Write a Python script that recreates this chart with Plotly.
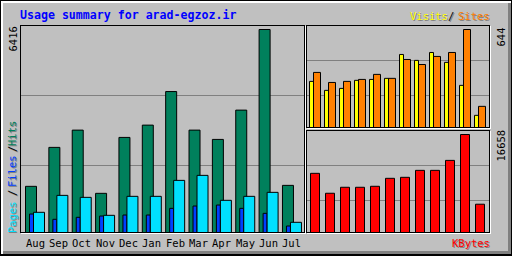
import plotly.graph_objects as go

# ---------------- data ----------------
months = ["Aug", "Sep", "Oct", "Nov", "Dec", "Jan", "Feb", "Mar", "Apr", "May", "Jun", "Jul"]
hits   = [1459, 2690, 3236, 1238, 3005, 3394, 4455, 3236, 2942, 3868, 6416, 1490]
files  = [584, 417, 480, 521, 552, 552, 764, 837, 868, 764, 606, 205]
pages  = [638, 1174, 1111, 543, 1143, 1143, 1648, 1806, 1017, 1143, 1269, 322]
visits = [303, 244, 257, 310, 316, 323, 480, 441, 493, 428, 277, 80]
sites  = [362, 296, 303, 316, 349, 323, 447, 414, 467, 493, 644, 139]
kbytes = [10056, 6670, 7686, 7686, 7855, 9210, 9379, 10564, 10564, 12257, 16658, 4808]

title = "Usage summary for arad-egzoz.ir"
max_hits = 6416
max_sites = 644
max_kbytes = 16658

# ---------------- colours ----------------
GREY = "#C0C0C0"
DKGREY = "#808080"
BLACK = "#000000"
WHITE = "#FFFFFF"
HIT_C = "#00805C"
FILE_C = "#0040FF"
PAGE_C = "#00E0FF"
VISIT_C = "#FFFF00"
SITE_C = "#FF8000"
KB_C = "#FF0000"
TITLE_C = "#0000FF"

W, H = 512, 256


def px(x):
    return x / W


def py(y):
    return 1 - y / H


# ---------------- geometry (pixels) ----------------
# main panel
M_X0, M_X1 = 20, 305
M_Y0, M_Y1 = 25, 234
M_STEP, M_C0 = 23.36, 35.0
M_BASE, M_TOP = 232.5, 29.5
# right panels
R_X0, R_X1 = 305, 490
R_STEP, R_C0 = 15.0, 315.0
V_Y0, V_Y1 = 25, 128
V_BASE, V_TOP = 127.5, 29.5
K_Y0, K_Y1 = 130, 234
K_BASE, K_TOP = 232.5, 134.5

fig = go.Figure()

bar_line = dict(color=BLACK, width=1)

def add_bar(vals, color, off_px, w_px, step, c0, xa, ya):
    fig.add_trace(go.Bar(
        x=months, y=vals, marker=dict(color=color, line=bar_line),
        offset=(off_px - c0) / step, width=w_px / step,
        xaxis=xa, yaxis=ya, hoverinfo="skip", showlegend=False))

add_bar(hits, HIT_C, 25.5, 11, M_STEP, M_C0, "x", "y")
add_bar(files, FILE_C, 29.5, 4, M_STEP, M_C0, "x", "y")
add_bar(pages, PAGE_C, 33.5, 11, M_STEP, M_C0, "x", "y")
add_bar(visits, VISIT_C, 309.5, 4, R_STEP, R_C0, "x2", "y2")
add_bar(sites, SITE_C, 313.5, 7, R_STEP, R_C0, "x2", "y2")
add_bar(kbytes, KB_C, 310.5, 9, R_STEP, R_C0, "x3", "y3")


def xrange(x0, x1, c0, step):
    return [(x0 - c0) / step, (x1 - c0) / step]


def yrange(y0, y1, base, top, vmax):
    k = vmax / (base - top)
    return [-(y1 - base) * k, (base - y0) * k]


ax_common = dict(visible=False, fixedrange=True, showgrid=False, zeroline=False)

fig.update_layout(
    width=W, height=H, margin=dict(l=0, r=0, t=0, b=0, pad=0),
    paper_bgcolor=GREY, plot_bgcolor="rgba(0,0,0,0)",
    barmode="overlay", hovermode=False, showlegend=False,
    xaxis=dict(domain=[px(M_X0), px(M_X1)], type="category", categoryarray=months,
               range=xrange(M_X0, M_X1, M_C0, M_STEP), **ax_common),
    yaxis=dict(domain=[py(M_Y1), py(M_Y0)],
               range=yrange(M_Y0, M_Y1, M_BASE, M_TOP, max_hits), **ax_common),
    xaxis2=dict(domain=[px(R_X0), px(R_X1)], type="category", categoryarray=months,
                range=xrange(R_X0, R_X1, R_C0, R_STEP), anchor="y2", **ax_common),
    yaxis2=dict(domain=[py(V_Y1), py(V_Y0)], anchor="x2",
                range=yrange(V_Y0, V_Y1, V_BASE, V_TOP, max_sites), **ax_common),
    xaxis3=dict(domain=[px(R_X0), px(R_X1)], type="category", categoryarray=months,
                range=xrange(R_X0, R_X1, R_C0, R_STEP), anchor="y3", **ax_common),
    yaxis3=dict(domain=[py(K_Y1), py(K_Y0)], anchor="x3",
                range=yrange(K_Y0, K_Y1, K_BASE, K_TOP, max_kbytes), **ax_common),
)

shapes = []


def block(c0, r0, c1, r1, color, layer="above"):
    """filled pixel block covering columns c0..c1 and rows r0..r1 inclusive"""
    shapes.append(dict(type="rect", xref="paper", yref="paper",
                       x0=px(c0), x1=px(c1 + 1), y0=py(r1 + 1), y1=py(r0),
                       fillcolor=color, line=dict(width=0), layer=layer))


# outer border
block(0, 0, 511, 0, BLACK)
block(0, 0, 0, 255, BLACK)
block(1, 1, 510, 2, WHITE)
block(1, 1, 2, 253, WHITE)
block(3, 251, 510, 253, DKGREY)
block(508, 3, 510, 253, DKGREY)
block(0, 254, 511, 255, BLACK)
block(511, 0, 511, 255, BLACK)

# grid lines
for r in (95, 165):
    block(21, r, 303, r, DKGREY, "below")
for r in (60, 95):
    block(307, r, 488, r, DKGREY, "below")
for r in (165, 200):
    block(307, r, 488, r, DKGREY, "below")


def frame(c0, r0, c1, r1):
    block(c0, r0, c1, r0, BLACK)
    block(c0, r0, c0, r1, BLACK)
    block(c0, r1, c1, r1, BLACK)
    block(c1, r0, c1, r1, BLACK)
    block(c0 + 1, r1 + 1, c1 + 1, r1 + 1, WHITE)
    block(c1 + 1, r0 + 1, c1 + 1, r1 + 1, WHITE)


frame(20, 25, 304, 232)
frame(306, 25, 489, 127)
frame(306, 130, 489, 232)

fig.update_layout(shapes=shapes)

MONO = "DejaVu Sans Mono"
SMALL = 10.5
annots = []


def text(s, x, y, color, size=SMALL, xanchor="center", yanchor="middle", angle=0,
         shadow=False, bold=False, xref="paper"):
    xx = x if xref != "paper" else px(x)
    base = dict(text=s, x=xx, y=py(y), xref=xref, yref="paper", showarrow=False,
                xanchor=xanchor, yanchor=yanchor, textangle=angle,
                borderpad=0, borderwidth=0)
    fnt = dict(family=MONO, size=size)
    if bold:
        fnt["weight"] = "bold"
    if shadow:
        annots.append(dict(base, font=dict(fnt, color=DKGREY), xshift=1, yshift=-1))
    annots.append(dict(base, font=dict(fnt, color=color)))


# title
text(title, 20, 15, TITLE_C, size=11.6, xanchor="left", bold=True)

# Visits / Sites legend (right aligned)
text("Sites", 490, 16, SITE_C, xanchor="right", shadow=True)
text("/", 451, 16, BLACK, shadow=True)
text("Visits", 448, 16, VISIT_C, xanchor="right", shadow=True)

# KBytes legend
text("KBytes", 490, 243, KB_C, xanchor="right", shadow=True)

# vertical legend on left
text("Pages", 12, 217, PAGE_C, angle=-90, shadow=True)
text("/", 12, 193, BLACK, angle=-90, shadow=True)
text("Files", 12, 171, FILE_C, angle=-90, shadow=True)
text("/", 12, 149, BLACK, angle=-90, shadow=True)
text("Hits", 12, 134, HIT_C, angle=-90, shadow=True)

# max value labels
text(str(max_hits), 12.5, 39, BLACK, angle=-90)
text(str(max_sites), 500.5, 37, BLACK, angle=-90)
text(str(max_kbytes), 500.5, 146, BLACK, angle=-90)

# month labels
for m in months:
    text(m, m, 243, BLACK, xref="x")

fig.update_layout(annotations=annots)

fig.write_html("out.html", config={"displayModeBar": False, "staticPlot": True})
